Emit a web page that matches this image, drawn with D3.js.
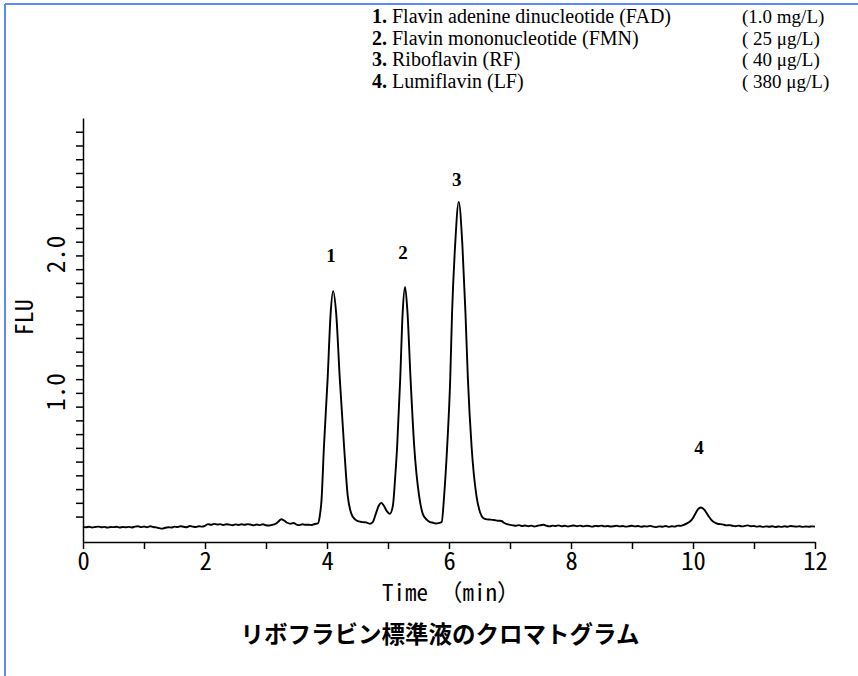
<!DOCTYPE html>
<html><head><meta charset="utf-8">
<script src="https://cdn.jsdelivr.net/npm/d3@7"></script>
<style>
html,body{margin:0;padding:0;background:#fff;}
svg{display:block;}
</style></head>
<body>
<svg id="chart" width="858" height="676"></svg>
<script>
// ---- data ----
const traceTime = [
0.00,0.05,0.10,0.15,0.20,0.25,0.30,0.35,0.40,0.45,0.50,0.55,0.60,0.65,0.70,0.75,0.80,0.85,0.90,0.95,
1.00,1.05,1.10,1.15,1.20,1.25,1.30,1.35,1.40,1.45,1.50,1.55,1.60,1.65,1.70,1.75,1.80,1.85,1.90,1.95,
2.00,2.05,2.10,2.15,2.20,2.25,2.30,2.35,2.40,2.45,2.50,2.55,2.60,2.65,2.70,2.75,2.80,2.85,2.90,2.95,
3.00,3.05,3.10,3.15,3.20,3.25,3.30,3.35,3.40,3.45,3.50,3.55,3.60,3.65,3.70,3.75,3.80,
3.85,3.88,3.91,3.95,4.01,4.06,4.10,4.15,4.21,4.28,4.34,4.40,4.46,4.52,4.58,4.64,4.70,4.75,
4.80,4.85,4.89,4.93,4.98,5.03,5.08,5.12,5.15,5.20,5.24,5.28,5.32,5.37,5.43,5.51,5.57,5.63,5.69,5.74,5.78,5.83,
5.88,5.92,5.97,6.02,6.05,6.10,6.16,6.22,6.27,6.31,6.37,6.45,6.51,6.56,6.62,6.68,6.74,6.80,6.86,6.90,6.95,7.00,
7.05,7.10,7.15,7.20,7.25,7.30,7.35,7.40,7.45,7.50,7.55,7.60,7.65,7.70,7.75,7.80,7.85,7.90,7.95,
8.00,8.05,8.10,8.15,8.20,8.25,8.30,8.35,8.40,8.45,8.50,8.55,8.60,8.65,8.70,8.75,8.80,8.85,8.90,8.95,
9.00,9.05,9.10,9.15,9.20,9.25,9.30,9.35,9.40,9.45,9.50,9.55,9.60,9.65,9.70,9.75,9.80,
9.85,9.90,9.95,10.00,10.04,10.08,10.13,10.18,10.22,10.26,10.30,10.34,10.40,10.45,10.50,
10.55,10.60,10.65,10.70,10.75,10.80,10.85,10.90,10.95,11.00,11.05,11.10,11.15,11.20,11.25,11.30,11.35,11.40,11.45,
11.50,11.55,11.60,11.65,11.70,11.75,11.80,11.85,11.90,11.95,12.00
];
const traceFlu = [
0.025,0.022,0.026,0.021,0.024,0.027,0.022,0.025,0.020,0.024,0.023,0.026,0.021,0.024,0.022,0.025,0.021,0.027,0.030,0.023,
0.028,0.022,0.030,0.024,0.021,0.016,0.012,0.019,0.022,0.020,0.027,0.024,0.030,0.026,0.022,0.031,0.027,0.024,0.030,0.027,
0.033,0.045,0.040,0.047,0.042,0.045,0.039,0.044,0.041,0.037,0.043,0.039,0.044,0.040,0.045,0.041,0.036,0.042,0.038,0.044,
0.037,0.035,0.040,0.046,0.062,0.080,0.070,0.055,0.048,0.053,0.042,0.038,0.044,0.040,0.041,0.039,0.046,
0.050,0.10,0.22,0.61,1.10,1.58,1.74,1.58,1.10,0.61,0.25,0.12,0.080,0.065,0.060,0.058,0.048,0.060,
0.12,0.18,0.20,0.18,0.14,0.12,0.18,0.40,0.61,1.10,1.58,1.77,1.58,1.10,0.61,0.25,0.12,0.080,0.060,0.055,0.050,0.052,
0.060,0.25,0.61,1.10,1.58,2.07,2.39,2.07,1.58,1.10,0.61,0.25,0.13,0.090,0.080,0.078,0.075,0.070,0.068,0.055,0.045,0.040,
0.036,0.033,0.038,0.031,0.035,0.030,0.034,0.028,0.033,0.037,0.041,0.033,0.029,0.034,0.031,0.036,0.030,0.033,0.028,
0.032,0.035,0.030,0.034,0.029,0.033,0.031,0.027,0.032,0.030,0.034,0.029,0.031,0.028,0.030,0.033,0.029,0.031,0.027,0.030,
0.033,0.029,0.031,0.026,0.030,0.028,0.032,0.027,0.023,0.029,0.026,0.031,0.025,0.030,0.027,0.034,0.032,
0.040,0.050,0.064,0.090,0.122,0.152,0.166,0.152,0.128,0.100,0.076,0.060,0.048,0.045,0.041,
0.036,0.038,0.033,0.030,0.034,0.029,0.032,0.036,0.030,0.031,0.027,0.030,0.025,0.029,0.026,0.030,0.024,0.028,0.025,
0.030,0.026,0.031,0.029,0.027,0.030,0.025,0.028,0.026,0.029,0.027
];
const peakNames = ["1","2","3","4"];
const peakTimes = [4.10, 5.28, 6.16, 10.13];
const peakLabelFlu = [1.955, 1.975, 2.505, 0.555];

const legendNums = ["1.","2.","3.","4."];
const legendNames = ["Flavin adenine dinucleotide (FAD)","Flavin mononucleotide (FMN)","Riboflavin (RF)","Lumiflavin (LF)"];
const legendConc = ["(1.0 mg/L)","( 25 μg/L)","( 40 μg/L)","( 380 μg/L)"];

const xTicks = d3.range(0, 13, 1);
const xTickLabels = [0,2,4,6,8,10,12];
const yTicks = d3.range(1, 30).map(d => d/10);
const yTickLabels = [1.0, 2.0];

const xTitle = "Time （min）";
const yTitle = "FLU";
const chartTitle = "リボフラビン標準液のクロマトグラム";

// ---- drawing ----
const svg = d3.select("#chart");
const monoFont = "'Noto Sans Mono CJK JP','Noto Sans CJK JP','DejaVu Sans Mono',monospace";
const serifFont = "'Liberation Serif','Times New Roman',serif";

// frame (blue lines top & left)
svg.append("line").attr("x1",5).attr("x2",858).attr("y1",4).attr("y2",4)
  .attr("stroke","#5b8cf5").attr("stroke-width",2);
svg.append("line").attr("x1",5).attr("x2",5).attr("y1",4).attr("y2",676)
  .attr("stroke","#5b8cf5").attr("stroke-width",2);

const x = d3.scaleLinear().domain([0,12]).range([83,815]);
const y = d3.scaleLinear().domain([-0.085,3.0]).range([542,118]);

// x axis
const xAxisG = svg.append("g").attr("transform",`translate(0,${y(-0.085)})`)
  .call(d3.axisBottom(x).tickValues(xTicks).tickSize(7).tickSizeOuter(0)
    .tickFormat(d => xTickLabels.includes(d) ? String(d) : ""));
xAxisG.select(".domain").attr("stroke","#000").attr("stroke-width",1.5);
xAxisG.selectAll(".tick line").attr("stroke","#000").attr("stroke-width",1.5);
xAxisG.selectAll(".tick text").attr("font-family",monoFont).attr("font-size",24.5)
  .attr("fill","#000").attr("dy","0.85em").attr("y",7);

// y axis
const yAxisG = svg.append("g").attr("transform",`translate(${x(0)},0)`)
  .call(d3.axisLeft(y).tickValues(yTicks).tickSize(7).tickSizeOuter(0).tickFormat(""));
yAxisG.select(".domain").attr("stroke","#000").attr("stroke-width",1.5);
yAxisG.selectAll(".tick line").attr("stroke","#000").attr("stroke-width",1.5);

// y tick labels rotated
svg.append("g").selectAll("text").data(yTickLabels).join("text")
  .attr("transform", d => `translate(${x(0)-18},${y(d)-1}) rotate(-90)`)
  .attr("text-anchor","middle")
  .attr("font-family",monoFont).attr("font-size",25).attr("fill","#000")
  .text(d => d.toFixed(1));

// axis titles
svg.append("text").attr("transform",`translate(33,${y(1.55)}) rotate(-90)`)
  .attr("text-anchor","middle").attr("font-family",monoFont).attr("font-size",24)
  .attr("fill","#000").text(yTitle);
svg.append("text").attr("x",x(6)+2).attr("y",601).attr("text-anchor","middle")
  .attr("font-family",monoFont).attr("font-size",23).attr("fill","#000").text(xTitle);

// trace
const pts = traceTime.map((t,i)=>[t, traceFlu[i]]);
const line = d3.line().x(d=>x(d[0])).y(d=>y(d[1])).curve(d3.curveMonotoneX);
svg.append("path").datum(pts).attr("d",line).attr("fill","none")
  .attr("stroke","#000").attr("stroke-width",1.9).attr("stroke-linejoin","round");

// peak labels
svg.append("g").selectAll("text").data(peakNames).join("text")
  .attr("x",(d,i)=>x(peakTimes[i])-2).attr("y",(d,i)=>y(peakLabelFlu[i]))
  .attr("text-anchor","middle").attr("font-family",serifFont).attr("font-weight","bold")
  .attr("font-size",19).attr("fill","#000").text(d=>d);

// legend
const leg = svg.append("g");
const rowY = [23, 44.5, 66, 87.5];
legendNums.forEach((n,i)=>{
  const t = leg.append("text").attr("x",372).attr("y",rowY[i])
    .attr("font-family",serifFont).attr("font-size",20).attr("fill","#000");
  t.append("tspan").attr("font-weight","bold").text(n);
  t.append("tspan").text(" " + legendNames[i]);
  leg.append("text").attr("x",742).attr("y",rowY[i])
    .attr("font-family",serifFont).attr("font-size",19).attr("fill","#000")
    .text(legendConc[i]);
});

// title
svg.append("text").attr("x",440).attr("y",643).attr("text-anchor","middle")
  .attr("font-family","'Noto Sans CJK JP',sans-serif").attr("font-weight","bold")
  .attr("font-size",23.5).attr("fill","#000").text(chartTitle);
</script>
</body></html>
